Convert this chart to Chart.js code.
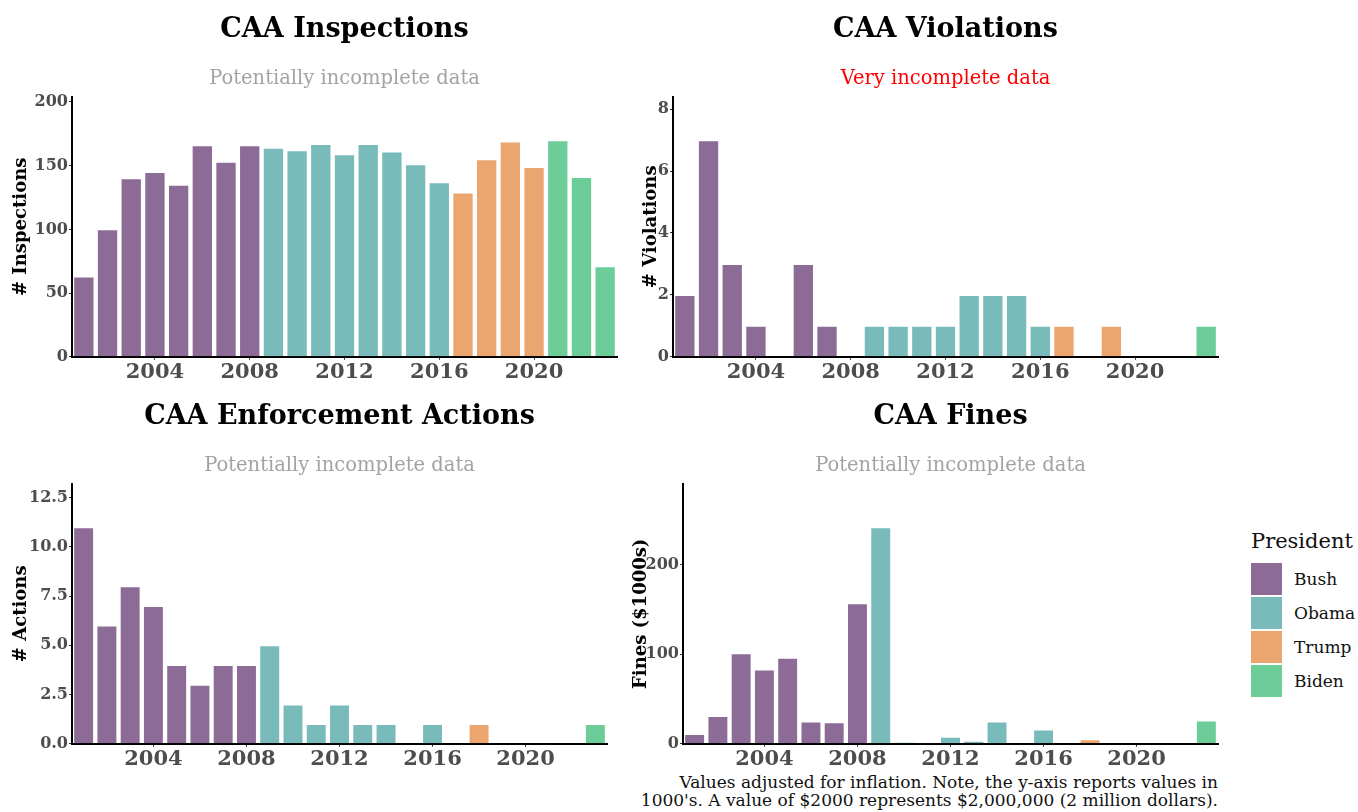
<!DOCTYPE html>
<html>
<head>
<meta charset="utf-8">
<script src="https://cdn.jsdelivr.net/npm/chart.js@4.4.0/dist/chart.umd.min.js"></script>
<style>
    body { margin: 0; background: #fff; width: 1358px; height: 812px; position: relative; overflow: hidden; font-family: "DejaVu Serif", serif; }
    .panel { position: absolute; }
    #caption { position: absolute; right: 140px; top: 773px; width: 700px; text-align: right; font-size: 17px; line-height: 18px; color: #111; }
    #legend { position: absolute; left: 1251px; top: 529px; color: #111; }
    #legend .head { font-size: 21px; margin-bottom: 9px; }
    #legend .row { display: flex; align-items: center; height: 34px; font-size: 17px; }
    #legend .sw { width: 31px; height: 32px; margin-right: 12px; }
</style>
</head>
<body>
<div class="panel" style="left:0px;top:0px;width:627px;height:385px"><canvas id="inspections"></canvas></div>
<div class="panel" style="left:630px;top:0px;width:598px;height:385px"><canvas id="violations"></canvas></div>
<div class="panel" style="left:0px;top:387px;width:617px;height:385px"><canvas id="actions"></canvas></div>
<div class="panel" style="left:620px;top:387px;width:608px;height:385px"><canvas id="fines"></canvas></div>
<div id="legend"></div>
<div id="caption">Values adjusted for inflation. Note, the y-axis reports values in<br>1000's. A value of $2000 represents $2,000,000 (2 million dollars).</div>
<script>
const years = [2001, 2002, 2003, 2004, 2005, 2006, 2007, 2008, 2009, 2010, 2011, 2012,
    2013, 2014, 2015, 2016, 2017, 2018, 2019, 2020, 2021, 2022, 2023];
const presidentByYear = ['Bush', 'Bush', 'Bush', 'Bush', 'Bush', 'Bush', 'Bush', 'Bush',
    'Obama', 'Obama', 'Obama', 'Obama', 'Obama', 'Obama', 'Obama', 'Obama',
    'Trump', 'Trump', 'Trump', 'Trump', 'Biden', 'Biden', 'Biden'];
const presidents = ['Bush', 'Obama', 'Trump', 'Biden'];
const presidentColors = ['#8d6b97', '#79baba', '#eba66f', '#6dcd99'];

const inspections = [63, 100, 140, 145, 135, 166, 153, 166, 164, 162, 167, 159,
    167, 161, 151, 137, 129, 155, 169, 149, 170, 141, 71];
const violations = [2, 7, 3, 1, null, 3, 1, null, 1, 1, 1, 1,
    2, 2, 2, 1, 1, null, 1, null, null, null, 1];
const actions = [11, 6, 8, 7, 4, 3, 4, 4, 5, 2, 1, 2,
    1, 1, null, 1, null, 1, null, null, null, null, 1];
const fines = [11, 31, 101, 83, 96, 25, 24, 157, 242, 2, 1, 8,
    3.5, 25, null, 16, null, 5, null, null, null, null, 26];

const yearTicks = [2004, 2008, 2012, 2016, 2020];

const barColors = presidentByYear.map(p => presidentColors[presidents.indexOf(p)]);

function makePanel(id, cfg) {
    const ctx = document.getElementById(id).getContext('2d');
    const top = Math.max(...cfg.values.filter(v => v !== null)) * 1.2;
    return new Chart(ctx, {
        type: 'bar',
        data: {
            labels: years,
            datasets: [{
                data: cfg.values,
                backgroundColor: barColors,
                borderColor: 'rgba(255,255,255,0.35)',
                borderWidth: 1,
                barPercentage: 0.9,
                categoryPercentage: 1.0
            }]
        },
        options: {
            responsive: true,
            maintainAspectRatio: false,
            animation: false,
            layout: { padding: { left: 0, right: 10, top: 0, bottom: 0 } },
            plugins: {
                legend: { display: false },
                tooltip: { enabled: false },
                title: {
                    display: true,
                    text: cfg.title,
                    fullSize: false,
                    color: '#000',
                    font: { family: 'DejaVu Serif', size: 27, weight: 'bold' },
                    padding: { top: 14, bottom: 21 }
                },
                subtitle: {
                    display: true,
                    text: cfg.subtitle,
                    fullSize: false,
                    color: cfg.subColor,
                    font: { family: 'DejaVu Serif', size: 19.5 },
                    padding: { top: 0, bottom: 6 }
                }
            },
            scales: {
                x: {
                    offset: true,
                    border: { display: true, color: '#000', width: 2 },
                    grid: {
                        offset: false,
                        drawOnChartArea: false,
                        tickLength: 3,
                        color: c => yearTicks.includes(years[c.index]) ? '#333' : 'rgba(0,0,0,0)'
                    },
                    ticks: {
                        autoSkip: false,
                        maxRotation: 0,
                        padding: 0,
                        color: '#4d4d4d',
                        font: { family: 'DejaVu Serif', size: 21, weight: 'bold' },
                        callback: (v, i) => yearTicks.includes(years[i]) ? String(years[i]) : ''
                    }
                },
                y: {
                    min: 0,
                    max: top,
                    afterFit: s => { s.width = cfg.axisWidth; },
                    afterBuildTicks: s => {
                        const t = [];
                        for (let v = 0; v <= top + 1e-9; v += cfg.step) t.push({ value: v });
                        s.ticks = t;
                    },
                    border: { display: true, color: '#000', width: 2 },
                    grid: { drawOnChartArea: false, tickLength: 3, color: '#333' },
                    ticks: {
                        padding: 1,
                        color: '#4d4d4d',
                        font: { family: 'DejaVu Serif', size: 16, weight: 'bold' },
                        callback: v => cfg.decimals ? v.toFixed(1) : String(v)
                    },
                    title: {
                        display: true,
                        text: cfg.yTitle,
                        color: '#000',
                        font: { family: 'DejaVu Serif', size: 18, weight: 'bold' },
                        padding: { top: 11, bottom: 0 }
                    }
                }
            }
        }
    });
}

makePanel('inspections', {
    values: inspections, title: 'CAA Inspections', subtitle: 'Potentially incomplete data',
    subColor: '#a3a3a3', yTitle: '# Inspections', step: 50, axisWidth: 72
});
makePanel('violations', {
    values: violations, title: 'CAA Violations', subtitle: 'Very incomplete data',
    subColor: '#ff0000', yTitle: '# Violations', step: 2, axisWidth: 43
});
makePanel('actions', {
    values: actions, title: 'CAA Enforcement Actions', subtitle: 'Potentially incomplete data',
    subColor: '#a3a3a3', yTitle: '# Actions', step: 2.5, decimals: true, axisWidth: 72
});
makePanel('fines', {
    values: fines, title: 'CAA Fines', subtitle: 'Potentially incomplete data',
    subColor: '#a3a3a3', yTitle: 'Fines ($1000s)', step: 100, axisWidth: 63
});

// shared legend
const legend = document.getElementById('legend');
const head = document.createElement('div');
head.className = 'head';
head.textContent = 'President';
legend.appendChild(head);
presidents.forEach((p, i) => {
    const row = document.createElement('div');
    row.className = 'row';
    row.innerHTML = `<span class="sw" style="background:${presidentColors[i]}"></span>${p}`;
    legend.appendChild(row);
});
</script>
</body>
</html>
